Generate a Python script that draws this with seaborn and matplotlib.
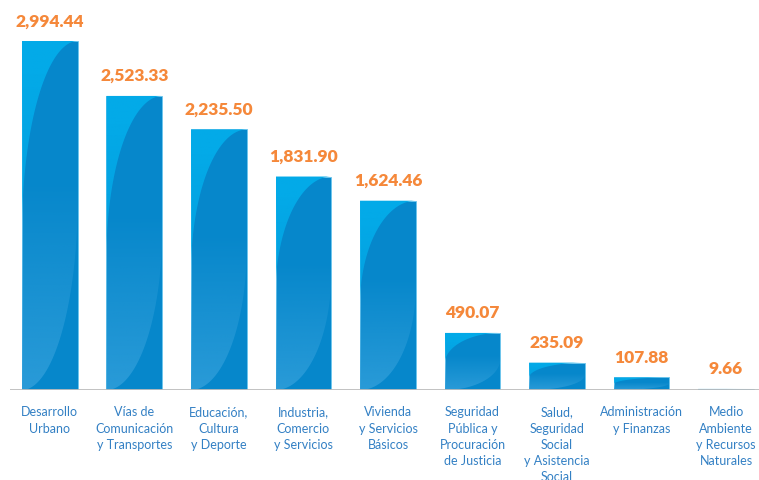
import matplotlib
matplotlib.use("Agg")
import matplotlib.pyplot as plt
from matplotlib.colors import to_rgb
from matplotlib.patches import Polygon
import numpy as np
import pandas as pd
import seaborn as sns

categorias = ["Desarrollo\nUrbano", "Vías de\nComunicación\ny Transportes",
              "Educación,\nCultura\ny Deporte", "Industria,\nComercio\ny Servicios",
              "Vivienda\ny Servicios\nBásicos",
              "Seguridad\nPública y\nProcuración\nde Justicia",
              "Salud,\nSeguridad\nSocial\ny Asistencia\nSocial",
              "Administración\ny Finanzas",
              "Medio\nAmbiente\ny Recursos\nNaturales"]
montos = [2994.44, 2523.33, 2235.50, 1831.90, 1624.46, 490.07, 235.09, 107.88, 9.66]

df = pd.DataFrame({"categoria": categorias, "monto": montos})

sns.set_style("white")
plt.rcParams['font.family'] = ['Lato', 'DejaVu Sans']

fig = plt.figure(figsize=(7.59, 4.81), dpi=100)
ax = fig.add_axes([0.013, 0.187, 0.987, 0.813])
sns.barplot(data=df, x="categoria", y="monto", color="#0687CB", saturation=1,
            width=0.66, ax=ax, zorder=2, edgecolor="#6CC6EE", linewidth=0.6)


def degradado(color, alfa_ini, alfa_fin, corte):
    # columna RGBA que se desvanece de abajo hacia arriba
    s = np.linspace(0, 1, 200)
    a = np.interp(s, [0, corte, 1], [alfa_ini, alfa_fin, alfa_fin])
    img = np.zeros((200, 1, 4))
    img[:, 0, :3] = to_rgb(color)
    img[:, 0, 3] = a
    return img


# brillos curvos sobre cada barra (forma de S)
t = np.linspace(0, np.pi / 2, 60)
for p in list(ax.patches):
    x0, y0, w, h = p.get_x(), p.get_y(), p.get_width(), p.get_height()
    ext = (x0, x0 + w, y0, y0 + h)
    # zona inferior izquierda, se desvanece hacia arriba
    lx = x0 + w * np.sin(t)
    ly = y0 + 0.55 * h - 0.55 * h * np.cos(t)
    zona = np.column_stack([np.concatenate([lx, [x0 + w, x0]]),
                            np.concatenate([ly, [y0 + h, y0 + h]])])
    im = ax.imshow(degradado("#2A9BD8", 1.0, 0.0, 0.6), extent=ext,
                   origin="lower", aspect="auto", zorder=3)
    im.set_clip_path(Polygon(zona, closed=True, transform=ax.transData))
    # zona superior izquierda, cian
    ux = x0 + w - w * np.cos(t)
    uy = y0 + 0.45 * h + 0.55 * h * np.sin(t)
    zona = np.column_stack([np.concatenate([ux, [x0]]),
                            np.concatenate([uy, [y0 + h]])])
    im = ax.imshow(degradado("#03AAE8", 0.35, 1.0, 0.9), extent=ext,
                   origin="lower", aspect="auto", zorder=4)
    im.set_clip_path(Polygon(zona, closed=True, transform=ax.transData))

ax.axhline(0, color="#BDBDBD", lw=1.3, zorder=5)

for i, v in enumerate(montos):
    ax.annotate(f"{v:,.2f}", (i, v), xytext=(0, 15), textcoords="offset points",
                ha="center", va="center", color="#F5883A", fontsize=12.5,
                fontweight="heavy")

ax.set_xlim(-0.473, 8.39)
ax.set_ylim(0, 3355)
ax.set_xlabel("")
ax.set_ylabel("")
ax.set_yticks([])
ax.tick_params(axis="x", length=0, pad=11)
for lbl in ax.get_xticklabels():
    lbl.set_color("#3380C4")
    lbl.set_fontsize(9)
    lbl.set_linespacing(1.42)
sns.despine(ax=ax, left=True, bottom=True)

fig.savefig("out.png", dpi=100)
